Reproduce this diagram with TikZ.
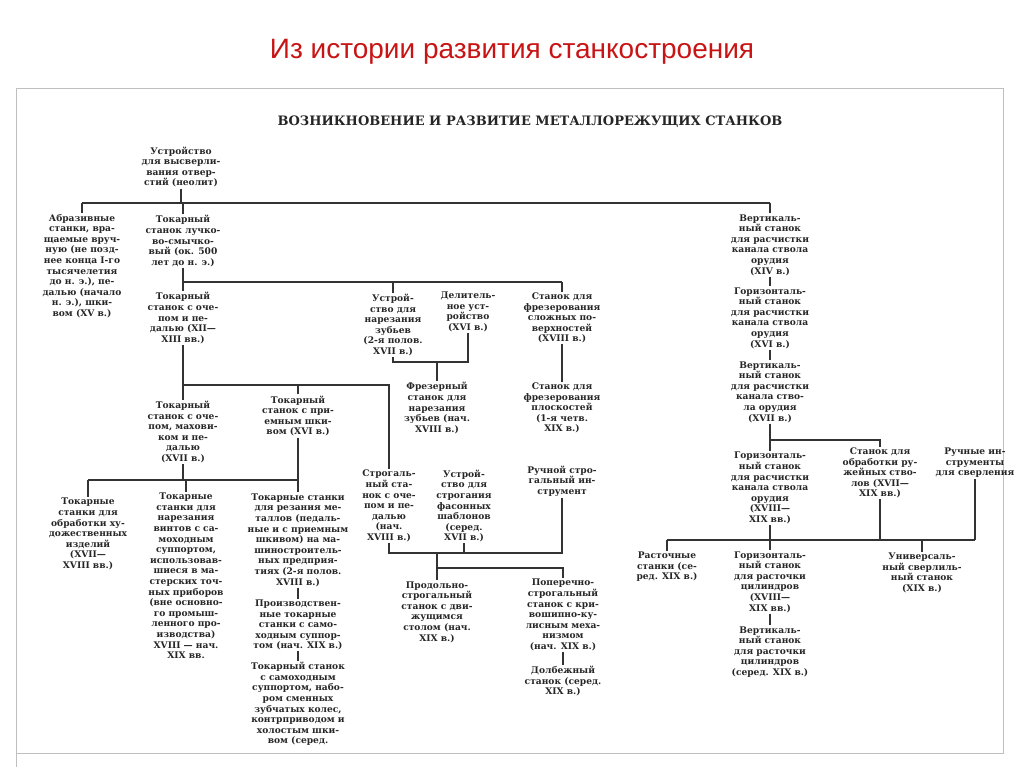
\documentclass[tikz,border=0pt]{standalone}
\usepackage{fontspec}
\setmainfont{DejaVu Serif}
\newfontfamily\titlefont{Liberation Sans}
\begin{document}
\begin{tikzpicture}[x=1pt,y=-1pt,
  t/.style={align=center,inner sep=1pt,font=\bfseries\fontsize{9.1}{10.6}\selectfont,text=black!85},
  ln/.style={line width=1.3pt,black!80}]
\useasboundingbox (0,0) rectangle (1024,767);
\fill[white] (0,0) rectangle (1024,767);
\draw[black!25,line width=0.8pt] (16,767) -- (16,88) -- (1003,88) -- (1003,753) -- (16,753);
\node[font=\titlefont\fontsize{28}{32}\selectfont,text={rgb,255:red,200;green,20;blue,20}] (title) at (512,52) {Из истории развития станкостроения};
\node[font=\bfseries\fontsize{13}{15}\selectfont,text=black!85] (head) at (530,122) {ВОЗНИКНОВЕНИЕ И РАЗВИТИЕ МЕТАЛЛОРЕЖУЩИХ СТАНКОВ};
\coordinate (b1) at (0,203); \coordinate (b2) at (0,282); \coordinate (b3) at (0,362);
\coordinate (b4) at (0,385); \coordinate (b5) at (0,480); \coordinate (b6) at (0,553);
\coordinate (b7) at (0,568); \coordinate (b8) at (0,440); \coordinate (b9) at (0,540);
\node[t] (root) at (181,167) {Устройство\\для высверли-\\вания отвер-\\стий (неолит)};
\node[t] (A) at (82,266) {Абразивные\\станки, вра-\\щаемые вруч-\\ную (не позд-\\нее конца I-го\\тысячелетия\\до н. э.), пе-\\далью (начало\\н. э.), шки-\\вом (XV в.)};
\node[t] (B) at (183,241) {Токарный\\станок лучко-\\во-смычко-\\вый (ок. 500\\лет до н. э.)};
\node[t] (V) at (770,245) {Вертикаль-\\ный станок\\для расчистки\\канала ствола\\орудия\\(XIV в.)};
\node[t] (C) at (183,318) {Токарный\\станок с оче-\\пом и пе-\\далью (XII—\\XIII вв.)};
\node[t] (D) at (393,325) {Устрой-\\ство для\\нарезания\\зубьев\\(2-я полов.\\XVII в.)};
\node[t] (E) at (468,312) {Делитель-\\ное уст-\\ройство\\(XVI в.)};
\node[t] (F) at (562,318) {Станок для\\фрезерования\\сложных по-\\верхностей\\(XVIII в.)};
\node[t] (G) at (437,408) {Фрезерный\\станок для\\нарезания\\зубьев (нач.\\XVIII в.)};
\node[t] (H) at (562,408) {Станок для\\фрезерования\\плоскостей\\(1-я четв.\\XIX в.)};
\node[t] (I) at (183,432) {Токарный\\станок с оче-\\пом, махови-\\ком и пе-\\далью\\(XVII в.)};
\node[t] (J) at (298,416) {Токарный\\станок с при-\\емным шки-\\вом (XVI в.)};
\node[t] (K) at (389,506) {Строгаль-\\ный ста-\\нок с оче-\\пом и пе-\\далью\\(нач.\\XVIII в.)};
\node[t] (L) at (464,506) {Устрой-\\ство для\\строгания\\фасонных\\шаблонов\\(серед.\\XVII в.)};
\node[t] (M) at (562,481) {Ручной стро-\\гальный ин-\\струмент};
\node[t] (N) at (437,612) {Продольно-\\строгальный\\станок с дви-\\жущимся\\столом (нач.\\XIX в.)};
\node[t] (P) at (563,615) {Поперечно-\\строгальный\\станок с кри-\\вошипно-ку-\\лисным меха-\\низмом\\(нач. XIX в.)};
\node[t] (Q) at (563,681) {Долбежный\\станок (серед.\\XIX в.)};
\node[t] (R1) at (88,534) {Токарные\\станки для\\обработки ху-\\дожественных\\изделий\\(XVII—\\XVIII вв.)};
\node[t] (R2) at (186,576) {Токарные\\станки для\\нарезания\\винтов с са-\\моходным\\суппортом,\\использовав-\\шиеся в ма-\\стерских точ-\\ных приборов\\(вне основно-\\го промыш-\\ленного про-\\изводства)\\XVIII — нач.\\XIX вв.};
\node[t] (R3) at (298,540) {Токарные станки\\для резания ме-\\таллов (педаль-\\ные и с приемным\\шкивом) на ма-\\шиностроитель-\\ных предприя-\\тиях (2-я полов.\\XVIII в.)};
\node[t] (R4) at (298,625) {Производствен-\\ные токарные\\станки с само-\\ходным суппор-\\том (нач. XIX в.)};
\node[t] (R5) at (298,704) {Токарный станок\\с самоходным\\суппортом, набо-\\ром сменных\\зубчатых колес,\\контрприводом и\\холостым шки-\\вом (серед.};
\node[t] (V2) at (770,318) {Горизонталь-\\ный станок\\для расчистки\\канала ствола\\орудия\\(XVI в.)};
\node[t] (V3) at (770,392) {Вертикаль-\\ный станок\\для расчистки\\канала ство-\\ла орудия\\(XVII в.)};
\node[t] (W1) at (770,488) {Горизонталь-\\ный станок\\для расчистки\\канала ствола\\орудия\\(XVIII—\\XIX вв.)};
\node[t] (W2) at (880,473) {Станок для\\обработки ру-\\жейных ство-\\лов (XVII—\\XIX вв.)};
\node[t] (W3) at (975,463) {Ручные ин-\\струменты\\для сверления};
\node[t] (X1) at (667,567) {Расточные\\станки (се-\\ред. XIX в.)};
\node[t] (X2) at (770,582) {Горизонталь-\\ный станок\\для расточки\\цилиндров\\(XVIII—\\XIX вв.)};
\node[t] (X3) at (922,573) {Универсаль-\\ный сверлиль-\\ный станок\\(XIX в.)};
\node[t] (X4) at (770,652) {Вертикаль-\\ный станок\\для расточки\\цилиндров\\(серед. XIX в.)};
\begin{scope}[ln]
\draw (root.south) -- (root.south |- b1);
\draw (A.north |- b1) -- (V.north |- b1);
\draw (A.north) -- (A.north |- b1);
\draw (B.north) -- (B.north |- b1);
\draw (V.north) -- (V.north |- b1);
\draw (B.south) -- (C.north);
\draw (C.north |- b2) -- (F.north |- b2);
\draw (D.north) -- (D.north |- b2);
\draw (F.north) -- (F.north |- b2);
\draw (D.south) -- (D.south |- b3) -- (E.south |- b3) -- (E.south);
\draw (G.north) -- (G.north |- b3);
\draw (F.south) -- (H.north);
\draw (C.south) -- (I.north);
\draw (C.south |- b4) -- (K.north |- b4) -- (K.north);
\draw (J.north) -- (J.north |- b4);
\draw (I.south) -- (I.south |- b5);
\draw (R1.north |- b5) -- (R3.north |- b5);
\draw (R1.north) -- (R1.north |- b5);
\draw (R2.north) -- (R2.north |- b5);
\draw (J.south) -- (R3.north);
\draw (R3.south) -- (R4.north);
\draw (R4.south) -- (R5.north);
\draw (K.south) -- (K.south |- b6) -- (M.south |- b6) -- (M.south);
\draw (L.south) -- (L.south |- b6);
\draw (N.north |- b6) -- (N.north);
\draw (N.north |- b7) -- (P.north |- b7) -- (P.north);
\draw (P.south) -- (Q.north);
\draw (V.south) -- (V2.north);
\draw (V2.south) -- (V3.north);
\draw (V3.south) -- (W1.north);
\draw (W1.north |- b8) -- (W2.north |- b8) -- (W2.north);
\draw (W1.south) -- (X2.north);
\draw (X1.north |- b9) -- (W3.south |- b9);
\draw (X1.north) -- (X1.north |- b9);
\draw (W2.south) -- (W2.south |- b9);
\draw (W3.south) -- (W3.south |- b9);
\draw (X3.north) -- (X3.north |- b9);
\draw (X2.south) -- (X4.north);
\end{scope}
\end{tikzpicture}
\end{document}
